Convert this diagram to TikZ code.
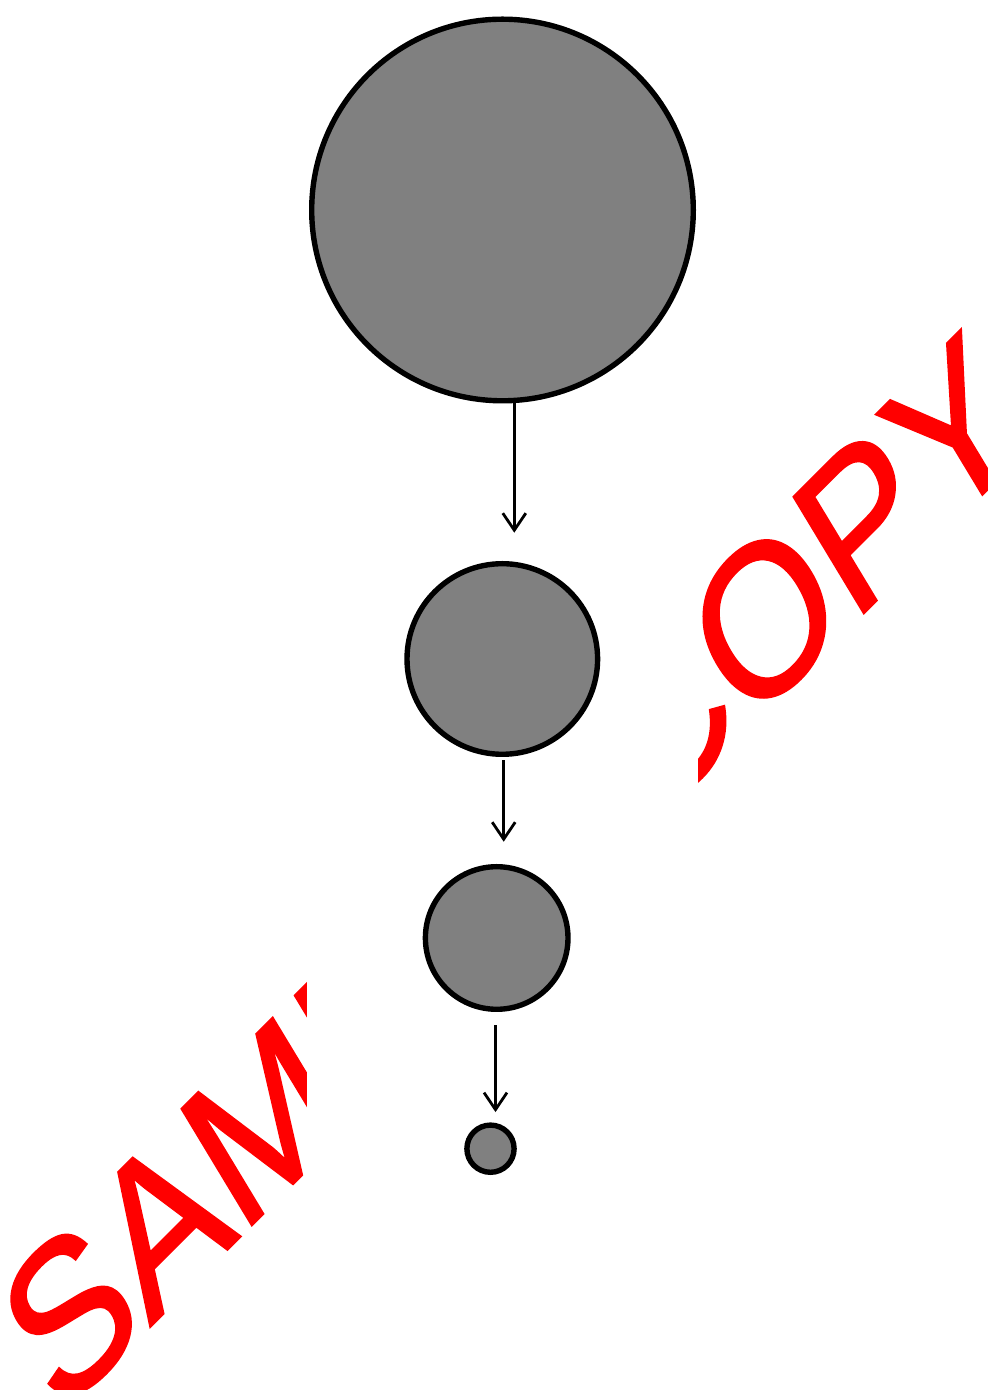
\documentclass[tikz,border=0pt]{standalone}
\usepackage{fontspec}
\setmainfont{Liberation Sans}
\newfontfamily\wmfont[FakeBold=1.2]{Liberation Sans}
\usetikzlibrary{arrows.meta}
\definecolor{wmred}{RGB}{255,0,0}
\definecolor{ballgray}{RGB}{128,128,128}
\begin{document}
\begin{tikzpicture}[x=1pt,y=1pt,
  ball/.style={circle,draw=black,fill=ballgray,line width=5.4pt,inner sep=0pt,outer sep=0pt},
  arr/.style={line width=2.8pt,-{Straight Barb[length=17pt,width=23pt]}}]
\useasboundingbox (0,0) rectangle (988,1390);
\fill[white] (0,0) rectangle (988,1390);
\begin{scope}[cm={1.36,1.36,-1.02,1.69,(59.3,-27.7)}]
  \node[transform shape, anchor=base west, inner sep=0pt, outer sep=0pt, text=wmred,
        font=\wmfont\fontsize{100}{120}\selectfont] (wm) at (0,0) {SAMPLE COPY};
\end{scope}
\fill[white] (307,0) rectangle (698,1390);
\node[ball,minimum size=381.6pt] (c1) at (502.5,1180) {};
\node[ball,minimum size=190.6pt] (c2) at (502.3,731) {};
\node[ball,minimum size=142.6pt] (c3) at (496.7,452) {};
\node[ball,minimum size=47.2pt] (c4) at (490.5,241.3) {};
\coordinate (a1s) at ([xshift=11.8pt]c1.south);
\coordinate (a2s) at ([xshift=1.4pt,yshift=-6pt]c2.south);
\coordinate (a3s) at ([xshift=-1.2pt,yshift=-16pt]c3.south);
\draw[arr] (a1s) -- ([yshift=31pt]c2.north -| a1s);
\draw[arr] (a2s) -- ([yshift=25pt]c3.north -| a2s);
\draw[arr] (a3s) -- ([yshift=13pt]c4.north -| a3s);
\end{tikzpicture}
\end{document}
